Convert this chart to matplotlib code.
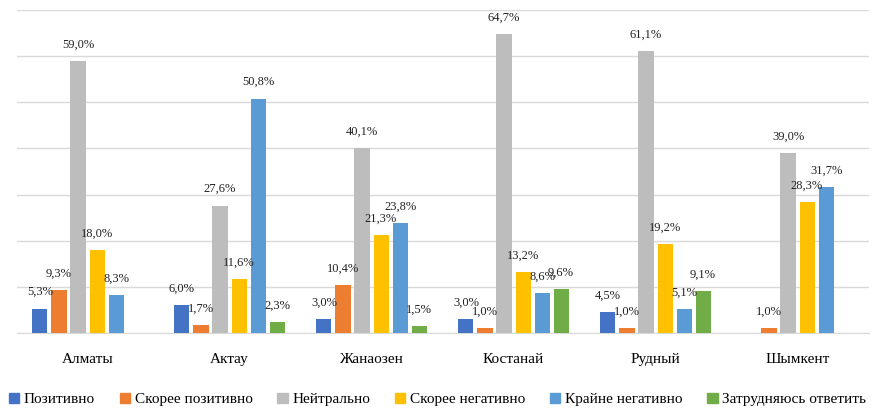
import numpy as np
import matplotlib
matplotlib.use("Agg")
import matplotlib.pyplot as plt
from matplotlib.patches import Patch

plt.rcParams['font.family'] = ['Liberation Serif', 'DejaVu Serif']

cities = ["Алматы", "Актау", "Жанаозен", "Костанай", "Рудный", "Шымкент"]
series_names = ["Позитивно", "Скорее позитивно", "Нейтрально",
                "Скорее негативно", "Крайне негативно", "Затрудняюсь ответить"]
positive = [5.3, 6.0, 3.0, 3.0, 4.5, None]
rather_positive = [9.3, 1.7, 10.4, 1.0, 1.0, 1.0]
neutral = [59.0, 27.6, 40.1, 64.7, 61.1, 39.0]
rather_negative = [18.0, 11.6, 21.3, 13.2, 19.2, 28.3]
very_negative = [8.3, 50.8, 23.8, 8.6, 5.1, 31.7]
hard_to_say = [None, 2.3, 1.5, 9.6, 9.1, None]
colors = ["#4472C4", "#ED7D31", "#BDBDBD", "#FFC000", "#5B9BD5", "#70AD47"]

all_series = [positive, rather_positive, neutral, rather_negative, very_negative, hard_to_say]

fig = plt.figure(figsize=(8.75, 4.16), dpi=100)
ax = fig.add_axes([0.0189, 0.1995, 0.9737, 0.7765])

x = np.arange(len(cities))
slot = 0.134
width = 0.106
for i, (vals, col) in enumerate(zip(all_series, colors)):
    offs = (i - 2.5) * slot
    for j, v in enumerate(vals):
        if v is None:
            continue
        ax.bar(x[j] + offs, v, width=width, color=col, zorder=3)
        ax.annotate(("%.1f%%" % v).replace(".", ","), (x[j] + offs, v),
                    xytext=(0, 7.5), textcoords="offset points",
                    ha="center", va="bottom", fontsize=9, color="#222222", zorder=4)

ax.set_xlim(-0.5, len(cities) - 0.5)
ax.set_ylim(0, 70)
ax.set_yticks(np.arange(0, 71, 10))
ax.yaxis.grid(True, color="#d9d9d9", linewidth=1.0, zorder=0)
ax.tick_params(axis="y", left=False, labelleft=False)
ax.set_xticks(x)
ax.set_xticklabels(cities, fontsize=11)
ax.tick_params(axis="x", bottom=False, pad=11)
for s in ["top", "right", "left"]:
    ax.spines[s].set_visible(False)
ax.spines["bottom"].set_color("#d9d9d9")

handles = [Patch(color=c, label=n) for c, n in zip(colors, series_names)]
fig.legend(handles=handles, loc="lower center", ncol=6, frameon=False,
           bbox_to_anchor=(0.5, -0.01), fontsize=11, handlelength=0.7,
           handleheight=0.7, handletextpad=0.3, columnspacing=1.6)

fig.savefig("out.png", dpi=100)
